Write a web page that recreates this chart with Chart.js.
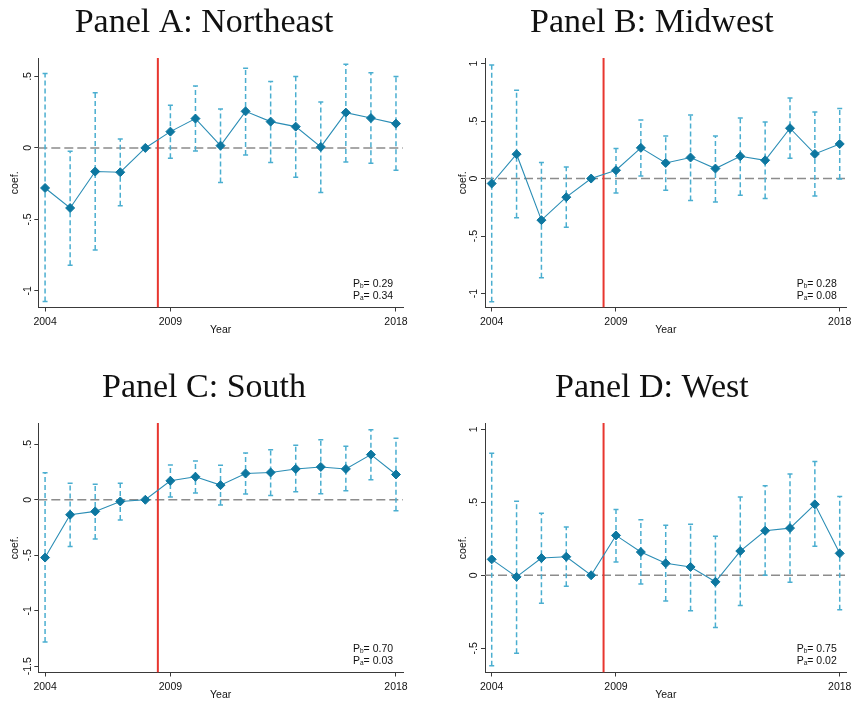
<!DOCTYPE html>
<html>
<head>
<meta charset="utf-8">
<script src="https://cdn.jsdelivr.net/npm/chart.js@4.4.1/dist/chart.umd.min.js"></script>
<style>
  body { margin: 0; background: #fff; width: 856px; height: 705px; position: relative; overflow: hidden; }
  canvas { position: absolute; }
</style>
</head>
<body>
<canvas id="panelA" width="428" height="340" style="left:0;top:0"></canvas>
<canvas id="panelB" width="428" height="340" style="left:428px;top:0"></canvas>
<canvas id="panelC" width="428" height="340" style="left:0;top:365px"></canvas>
<canvas id="panelD" width="428" height="340" style="left:428px;top:365px"></canvas>
<script>
var years = [2004, 2005, 2006, 2007, 2008, 2009, 2010, 2011, 2012, 2013, 2014, 2015, 2016, 2017, 2018];
var xTicks = [2004, 2009, 2018];
var xRange = [2003.73, 2018.28];
var policyYear = 2008.5;

// Northeast
var coefA = [-0.28, -0.42, -0.165, -0.17, 0, 0.114, 0.205, 0.016, 0.256, 0.184, 0.149, 0.007, 0.247, 0.209, 0.17];
var hiA = [0.52, -0.023, 0.386, 0.063, null, 0.298, 0.433, 0.272, 0.558, 0.465, 0.5, 0.321, 0.586, 0.526, 0.5];
var loA = [-1.074, -0.821, -0.714, -0.405, null, -0.072, -0.021, -0.242, -0.049, -0.102, -0.205, -0.312, -0.098, -0.107, -0.156];
var yTicksA = [-1, -0.5, 0, 0.5];
var yRangeA = [-1.116, 0.629];

// Midwest
var coefB = [-0.043, 0.212, -0.362, -0.162, 0, 0.072, 0.267, 0.136, 0.183, 0.087, 0.194, 0.159, 0.438, 0.214, 0.301];
var hiB = [0.988, 0.768, 0.139, 0.101, null, 0.261, 0.51, 0.371, 0.554, 0.371, 0.528, 0.493, 0.701, 0.58, 0.609];
var loB = [-1.072, -0.342, -0.864, -0.423, null, -0.125, 0.023, -0.101, -0.191, -0.203, -0.145, -0.174, 0.177, -0.151, -0.003];
var yTicksB = [-1, -0.5, 0, 0.5, 1];
var yRangeB = [-1.122, 1.049];

// South
var coefC = [-0.521, -0.135, -0.105, -0.015, 0, 0.171, 0.207, 0.132, 0.237, 0.246, 0.278, 0.296, 0.278, 0.407, 0.228];
var hiC = [0.243, 0.15, 0.141, 0.15, null, 0.314, 0.35, 0.311, 0.422, 0.452, 0.491, 0.542, 0.482, 0.632, 0.554];
var loC = [-1.281, -0.422, -0.353, -0.183, null, 0.024, 0.06, -0.048, 0.051, 0.039, 0.072, 0.054, 0.081, 0.18, -0.099];
var yTicksC = [-1.5, -1, -0.5, 0, 0.5];
var yRangeC = [-1.557, 0.692];

// West
var coefD = [0.109, -0.011, 0.118, 0.127, 0, 0.273, 0.159, 0.082, 0.057, -0.045, 0.166, 0.305, 0.323, 0.486, 0.15];
var hiD = [0.836, 0.507, 0.425, 0.33, null, 0.45, 0.38, 0.343, 0.35, 0.268, 0.536, 0.614, 0.693, 0.78, 0.539];
var loD = [-0.62, -0.534, -0.191, -0.075, null, 0.091, -0.059, -0.177, -0.243, -0.357, -0.207, 0.0, -0.048, 0.198, -0.236];
var yTicksD = [-0.5, 0, 0.5, 1];
var yRangeD = [-0.666, 1.043];

var titles = ['Panel A: Northeast', 'Panel B: Midwest', 'Panel C: South', 'Panel D: West'];
var pBefore = ['0.29', '0.28', '0.70', '0.75'];
var pAfter = ['0.34', '0.08', '0.03', '0.02'];

var axisFont = { family: 'Liberation Sans', size: 10.5 };
var axisColor = '#3a3a3a';

// stata-style tick labels: .5 instead of 0.5
function stataNum(v) {
    if (v === 0) return '0';
    return String(v).replace('0.', '.');
}

// P_b / P_a note in the lower right corner of the plot
var pNote = {
    id: 'pNote',
    afterDraw: function (chart, args, opts) {
        var ctx = chart.ctx, area = chart.chartArea;
        var x0 = area.right - 50;
        var rows = [['b', opts.before, area.bottom - 23.5], ['a', opts.after, area.bottom - 11.5]];
        ctx.save();
        ctx.fillStyle = '#111';
        ctx.textBaseline = 'middle';
        ctx.textAlign = 'left';
        rows.forEach(function (r) {
            ctx.font = '10.5px "Liberation Sans"';
            ctx.fillText('P', x0, r[2]);
            var w = ctx.measureText('P').width;
            ctx.font = '6.5px "Liberation Sans"';
            ctx.fillText(r[0], x0 + w, r[2] + 2.5);
            var w2 = ctx.measureText(r[0]).width;
            ctx.font = '10.5px "Liberation Sans"';
            ctx.fillText('= ' + r[1], x0 + w + w2, r[2]);
        });
        ctx.restore();
    }
};

function makePanel(id, idx, coef, lo, hi, yTicks, yRange, padL, padR, yW, tickPad) {
    var points = years.map(function (yr, i) { return { x: yr, y: coef[i] }; });
    var bars = [];
    years.forEach(function (yr, i) {
        if (lo[i] === null) return;
        bars.push({ x: yr, y: lo[i] }, { x: yr, y: hi[i] }, { x: yr, y: null });
    });

    new Chart(document.getElementById(id), {
        type: 'line',
        data: {
            datasets: [
                {
                    label: 'coef',
                    data: points,
                    borderColor: '#2a8db5',
                    borderWidth: 1.1,
                    pointStyle: 'rectRot',
                    pointRadius: 4.5,
                    pointBackgroundColor: '#0d77a0',
                    pointBorderColor: '#0d77a0',
                    pointBorderWidth: 1
                },
                {
                    label: 'ci',
                    data: bars,
                    borderColor: '#4aaed0',
                    borderWidth: 1.5,
                    borderDash: [5, 3],
                    pointStyle: 'line',
                    pointRadius: 2.5,
                    pointBorderColor: '#4aaed0',
                    pointBorderWidth: 1.5,
                    spanGaps: false
                },
                {
                    label: 'policy',
                    data: [{ x: policyYear, y: yRange[0] }, { x: policyYear, y: yRange[1] }],
                    borderColor: '#e8362f',
                    borderWidth: 2,
                    pointRadius: 0
                },
                {
                    label: 'zero',
                    data: [{ x: xRange[0], y: 0 }, { x: xRange[1], y: 0 }],
                    borderColor: '#8c8c8c',
                    borderWidth: 1.5,
                    borderDash: [9, 4],
                    pointRadius: 0
                }
            ]
        },
        options: {
            responsive: false,
            animation: false,
            events: [],
            layout: { padding: { left: padL, right: padR, top: 0, bottom: 0 } },
            plugins: {
                legend: { display: false },
                tooltip: { enabled: false },
                title: {
                    display: true,
                    text: titles[idx],
                    color: '#111',
                    font: { family: 'Liberation Serif', size: 34, weight: 'normal', lineHeight: 1.2 },
                    padding: { top: 3, bottom: 14.2 }
                },
                pNote: { before: pBefore[idx], after: pAfter[idx] }
            },
            scales: {
                x: {
                    type: 'linear',
                    position: 'bottom',
                    min: xRange[0],
                    max: xRange[1],
                    afterBuildTicks: function (s) { s.ticks = xTicks.map(function (v) { return { value: v }; }); },
                    afterFit: function (s) { s.height = 32.5; },
                    border: { display: true, color: axisColor, width: 1 },
                    grid: { drawOnChartArea: false, drawTicks: true, tickLength: 4, color: axisColor },
                    ticks: {
                        autoSkip: false,
                        maxRotation: 0,
                        padding: 4.5,
                        color: '#111',
                        font: axisFont,
                        callback: function (v) { return String(v); }
                    },
                    title: { display: true, text: 'Year', color: '#111', font: axisFont, padding: { top: 0, bottom: 3.5 } }
                },
                y: {
                    type: 'linear',
                    min: yRange[0],
                    max: yRange[1],
                    afterBuildTicks: function (s) { s.ticks = yTicks.map(function (v) { return { value: v }; }); },
                    afterFit: function (s) { s.width = yW; },
                    border: { display: true, color: axisColor, width: 1 },
                    grid: { drawOnChartArea: false, drawTicks: true, tickLength: 4, color: axisColor },
                    ticks: {
                        autoSkip: false,
                        minRotation: 90,
                        maxRotation: 90,
                        crossAlign: 'center',
                        padding: tickPad,
                        color: '#111',
                        font: axisFont,
                        callback: function (v) { return stataNum(v); }
                    },
                    title: { display: true, text: 'coef.', color: '#111', font: axisFont, padding: { top: 4, bottom: 0 } }
                }
            }
        },
        plugins: [pNote]
    });
}

makePanel('panelA', 0, coefA, loA, hiA, yTicksA, yRangeA, 5, 25, 33.3, 0.5);
makePanel('panelB', 1, coefB, loB, hiB, yTicksB, yRangeB, 25, 5.3, 32, 0.5);
makePanel('panelC', 2, coefC, loC, hiC, yTicksC, yRangeC, 5, 25, 33.3, -2.5);
makePanel('panelD', 3, coefD, loD, hiD, yTicksD, yRangeD, 25, 5.3, 32, 0.5);
</script>
</body>
</html>
